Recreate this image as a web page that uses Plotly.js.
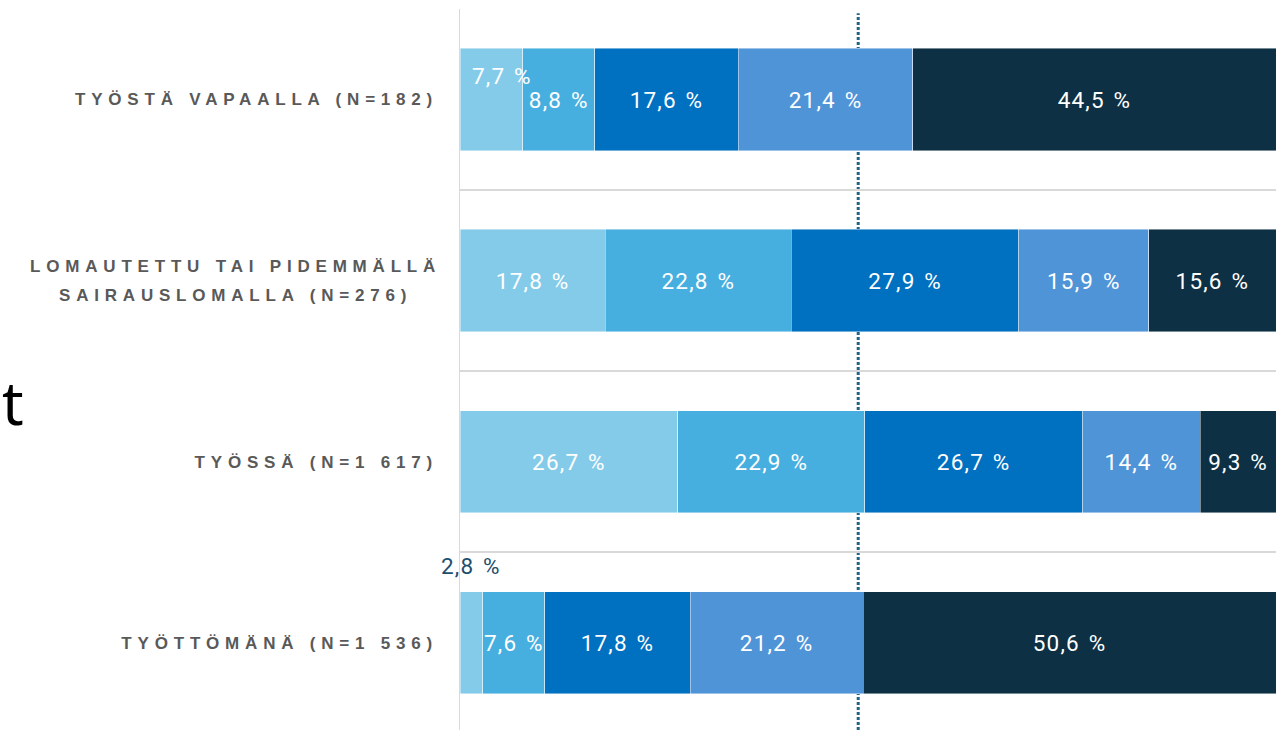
<!DOCTYPE html>
<html>
<head>
<meta charset="utf-8">
<script src="https://cdn.plot.ly/plotly-3.0.1.min.js"></script>
<style>
  html, body { margin: 0; padding: 0; background: #ffffff; }
  #chart { width: 1276px; height: 730px; }
  .ytick text { letter-spacing: 5.8px; }
  text.bartext, text.annotation-text { letter-spacing: 1.2px; word-spacing: 2px; }
</style>
</head>
<body>
<div id="chart"></div>
<script>
// ---- Data ----
const categories = [
  "TYÖSTÄ VAPAALLA (N=182)",
  "LOMAUTETTU TAI PIDEMMÄLLÄ<br>SAIRAUSLOMALLA (N=276)",
  "TYÖSSÄ (N=1 617)",
  "TYÖTTÖMÄNÄ (N=1 536)"
];
const seriesNames = ["Luokka 1", "Luokka 2", "Luokka 3", "Luokka 4", "Luokka 5"];
const series1 = [7.7, 17.8, 26.7, 2.8];
const series2 = [8.8, 22.8, 22.9, 7.6];
const series3 = [17.6, 27.9, 26.7, 17.8];
const series4 = [21.4, 15.9, 14.4, 21.2];
const series5 = [44.5, 15.6, 9.3, 50.6];
const referenceValue = 48.8;

// ---- Styles ----
const colors = ["#84cbea", "#47afdf", "#0070c0", "#5094d8", "#0d3044"];
const allSeries = [series1, series2, series3, series4, series5];
const barFont = 'Roboto, sans-serif';
const barFontSize = 22.5;
// labels drawn separately (offset) for small segments: [seriesIndex, categoryIndex, xshift, yshift, color]
const offsetLabels = [
  [0, 0, 11, 24, "#ffffff"],
  [0, 3, 0, 77, "#1d4e6e"]
];

function fmt(v) { return v.toFixed(1).replace('.', ',') + ' %'; }

const traces = allSeries.map((vals, si) => {
  const texts = vals.map((v, ci) =>
    offsetLabels.some(o => o[0] === si && o[1] === ci) ? '' : fmt(v));
  return {
    type: 'bar',
    orientation: 'h',
    name: seriesNames[si],
    y: categories,
    x: vals,
    text: texts,
    textposition: 'inside',
    insidetextanchor: 'middle',
    textangle: 0,
    constraintext: 'none',
    insidetextfont: { family: barFont, size: barFontSize, color: '#ffffff' },
    marker: { color: colors[si], line: { color: 'rgba(255,255,255,0.55)', width: 0.8 } },
    hoverinfo: 'skip',
    showlegend: false
  };
});

// Offset labels placed via the data scale
const annotations = offsetLabels.map(o => {
  const [si, ci, xs, ys, col] = o;
  let start = 0;
  for (let k = 0; k < si; k++) start += allSeries[k][ci];
  const v = allSeries[si][ci];
  return {
    x: start + v / 2, y: categories[ci], xref: 'x', yref: 'y',
    text: fmt(v), showarrow: false, xshift: xs, yshift: ys,
    font: { family: barFont, size: barFontSize, color: col }
  };
});

// partial title character at the left edge
annotations.push({
  xref: 'paper', yref: 'paper', x: -460 / 816, y: 0.455,
  xanchor: 'left', yanchor: 'middle', showarrow: false,
  text: 't', font: { family: 'Noto Sans, sans-serif', size: 60, color: '#000000' }
});

const layout = {
  width: 1276, height: 730,
  margin: { l: 460, r: 0, t: 9, b: 0, pad: 0 },
  paper_bgcolor: '#ffffff', plot_bgcolor: '#ffffff',
  barmode: 'stack',
  bargap: 0.436,
  separators: ', ',
  xaxis: {
    range: [0, 100], showgrid: false, zeroline: false, showticklabels: false,
    showline: false, fixedrange: true
  },
  yaxis: {
    type: 'category',
    range: [3.483, -0.5],
    tickson: 'boundaries',
    showgrid: true, gridcolor: '#d9d9d9', gridwidth: 1.5,
    showline: true, linecolor: '#d9d9d9', linewidth: 1.5,
    ticks: '', ticklabelstandoff: 17,
    tickfont: { family: 'Liberation Sans, Arial, sans-serif', size: 17, color: '#595959', weight: 'bold' },
    zeroline: false, fixedrange: true
  },
  shapes: [{
    type: 'line', xref: 'x', yref: 'paper',
    x0: referenceValue, x1: referenceValue, y0: 0, y1: 0.994,
    line: { color: '#1f6485', width: 3, dash: '3px,2px' },
    layer: 'between'
  }],
  annotations: annotations
};

const gd = document.getElementById('chart');
Plotly.newPlot(gd, traces, layout, { displayModeBar: false, staticPlot: true }).then(() => {
  // center multi-line tick labels within their block and widen line spacing
  gd.querySelectorAll('.ytick text').forEach(t => {
    const lines = t.querySelectorAll('tspan.line');
    if (lines.length > 1) {
      const before = t.getBBox();
      const cx = before.x + before.width / 2;
      const cy = before.y + before.height / 2;
      t.setAttribute('text-anchor', 'middle');
      lines.forEach((l, i) => {
        l.setAttribute('x', cx);
        if (i > 0) l.setAttribute('dy', '29px');
      });
      const after = t.getBBox();
      const acy = after.y + after.height / 2;
      const tr = t.getAttribute('transform') || '';
      t.setAttribute('transform', tr + ' translate(3,' + (cy - acy) + ')');
    }
  });
});
</script>
</body>
</html>
